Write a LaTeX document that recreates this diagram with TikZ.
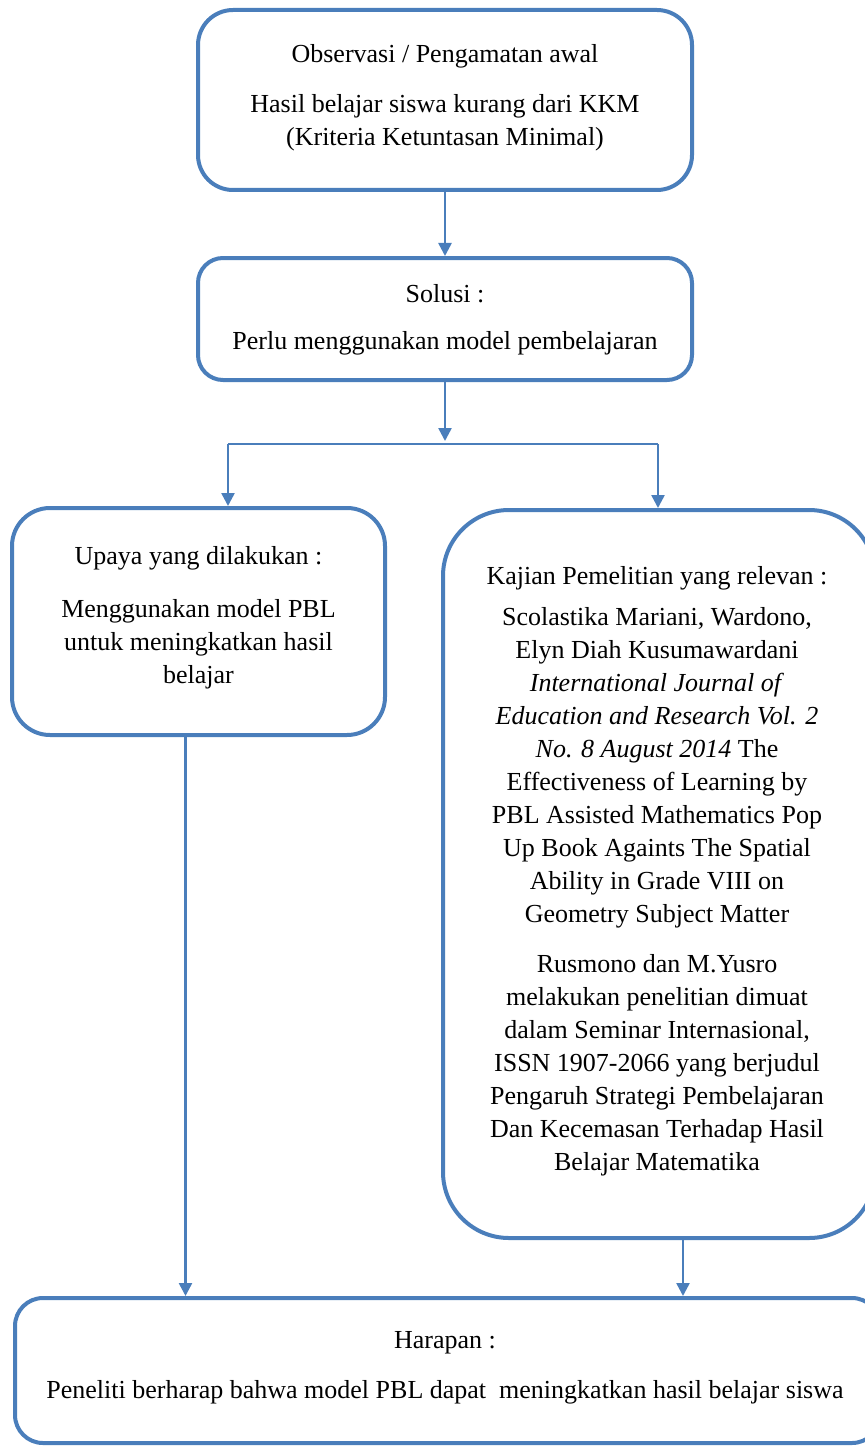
\documentclass[tikz,border=0pt]{standalone}
\usepackage{fontspec}
\setmainfont{Liberation Serif}
\usepackage{tikz}
\usetikzlibrary{arrows.meta,positioning}
\definecolor{boxblue}{RGB}{74,126,187}

\tikzset{
  box/.style={draw=boxblue, line width=4pt, inner sep=0pt},
  txt/.style={align=center, inner sep=0pt, anchor=north, font=\fontsize{26}{33}\selectfont},
  arr/.style={draw=boxblue, line width=2.5pt, -{Triangle[width=13pt,length=13pt]}},
  branch/.style={draw=boxblue, line width=2pt},
}

\begin{document}
\begin{tikzpicture}[x=1pt,y=-1pt]
\useasboundingbox (0,0) rectangle (864,1447);

% boxes
\node[box, rounded corners=35pt, minimum width=494pt, minimum height=180pt] (obs) at (445,100) {};
\node[box, rounded corners=25pt, minimum width=494pt, minimum height=122pt] (solusi) at (445,319) {};
\node[box, rounded corners=38pt, minimum width=373pt, minimum height=227pt] (upaya) at (198.5,621.5) {};
\node[box, rounded corners=66pt, minimum width=432pt, minimum height=728pt] (kajian) at (659,874) {};
\node[box, rounded corners=28pt, minimum width=865pt, minimum height=145pt] (harapan) at (447.5,1370.5) {};

% texts
\node[txt] (obs-t) at (445,44) {Observasi / Pengamatan awal\\[17pt]
  Hasil belajar siswa kurang dari KKM\\
  (Kriteria Ketuntasan Minimal)};
\node[txt] (solusi-t) at (445,284) {Solusi :\\[14pt]
  Perlu menggunakan model pembelajaran};
\node[txt] (upaya-t) at (198.5,546) {Upaya yang dilakukan :\\[20pt]
  Menggunakan model PBL\\
  untuk meningkatkan hasil\\
  belajar};
\node[txt] (kajian-t) at (657,566) {Kajian Pemelitian yang relevan :\\[8pt]
  Scolastika Mariani, Wardono,\\
  Elyn Diah Kusumawardani\\
  \textit{International Journal of}\\
  \textit{Education and Research Vol. 2}\\
  \textit{No. 8 August 2014} The\\
  Effectiveness of Learning by\\
  PBL Assisted Mathematics Pop\\
  Up Book Againts The Spatial\\
  Ability in Grade VIII on\\
  Geometry Subject Matter\\[17pt]
  Rusmono dan M.Yusro\\
  melakukan penelitian dimuat\\
  dalam Seminar Internasional,\\
  ISSN 1907-2066 yang berjudul\\
  Pengaruh Strategi Pembelajaran\\
  Dan Kecemasan Terhadap Hasil\\
  Belajar Matematika};
\node[txt] (harapan-t) at (445,1331) {Harapan :\\[17pt]
  Peneliti berharap bahwa model PBL dapat~ meningkatkan hasil belajar siswa};

% connectors
\coordinate (split) at (445,441);
\coordinate (splitL) at (228,444);
\coordinate (splitR) at (658,444);
\coordinate (dropL) at ([xshift=-13pt]upaya.south);
\coordinate (dropR) at ([xshift=24pt]kajian.south);

\draw[arr] (obs.south) -- (solusi.north);
\draw[arr] (solusi.south) -- (split);
\draw[branch] (splitL) -- (splitR);
\draw[arr] (splitL) -- (splitL |- upaya.north);
\draw[arr] (splitR) -- (splitR |- kajian.north);
\draw[arr] (dropL) -- (dropL |- harapan.north);
\draw[arr] (dropR) -- (dropR |- harapan.north);
\end{tikzpicture}
\end{document}
